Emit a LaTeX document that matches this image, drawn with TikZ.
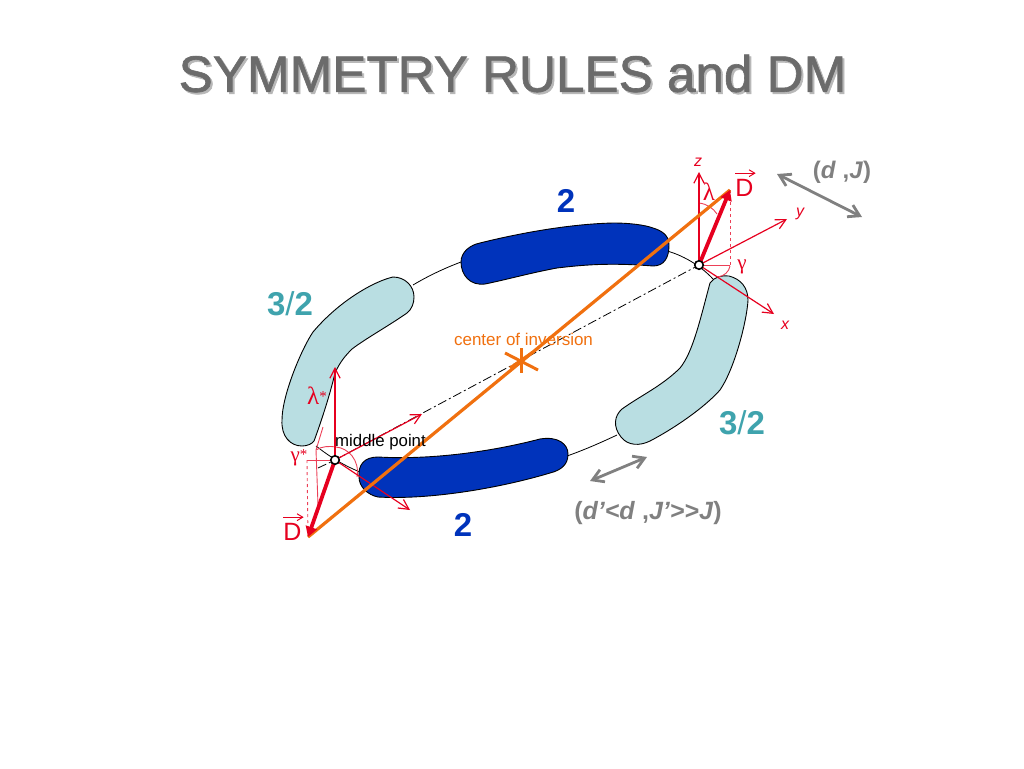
\documentclass[tikz,border=0pt]{standalone}
\usepackage{amsmath}
\usepackage{fontspec}
\setmainfont{Liberation Sans}
\newfontfamily\greekfont{Liberation Serif}
\newfontfamily\titlefont[FakeBold=1.2]{Liberation Sans}
\usetikzlibrary{arrows.meta,positioning,calc}
\definecolor{redaxis}{HTML}{E6001F}
\definecolor{orangeline}{HTML}{F0700F}
\definecolor{bluebar}{HTML}{0033BB}
\definecolor{lightbar}{HTML}{B9DEE2}
\definecolor{tealtxt}{HTML}{3FA3AD}
\definecolor{greytxt}{HTML}{808080}
\tikzset{
  axis/.style={redaxis, line width=1.2pt, -{Straight Barb[length=3.5mm,width=3.6mm]}},
  guide/.style={redaxis!75, line width=0.9pt},
  spin/.style={redaxis, line width=3.8pt, -{Triangle[length=3.6mm,width=4mm]}},
  dvec/.style={redaxis, line width=1pt, -{Straight Barb[length=2mm,width=2.4mm]}},
  ring/.style={black, line width=0.8pt},
  jarr/.style={greytxt, line width=2.8pt, {Straight Barb[length=3.8mm,width=4.6mm]}-{Straight Barb[length=3.8mm,width=4.6mm]}},
  site/.style={circle, draw, line width=1.6pt, fill=white, inner sep=0pt, minimum size=8.5pt},
  lbl/.style={redaxis, inner sep=0pt},
  bignum/.style={font=\fontsize{33}{33}\selectfont\bfseries, inner sep=0pt},
  jtxt/.style={greytxt, font=\fontsize{24}{24}\selectfont\bfseries, inner sep=0pt},
}
\newcommand{\upstar}[1]{\raisebox{#1}{\fontsize{15}{15}\selectfont*}}

\begin{document}
\begin{tikzpicture}[x=1pt,y=-1pt]
  \useasboundingbox (0,0) rectangle (1024,768);
  \node[text=black!28, font=\fontsize{51.2}{51}\titlefont] at (514.5,75.5) (titleback) {SYMMETRY RULES and DM};
  \node[text=black!58, font=\fontsize{51.2}{51}\titlefont] at (512.5,73.5) (title) {SYMMETRY RULES and DM};

  \coordinate (pt) at (699,265);
  \coordinate (mid) at (335,460);
  \coordinate (tipd) at (730,190);
  \coordinate (tipm) at (308,537);
  \coordinate (cen) at (521,361);

  % ring pieces between the bars
  \draw[ring] (413,285) .. controls (428,276) and (445,268) .. (461,262);
  \draw[ring] (667,251) .. controls (682,255) and (700,265) .. (713,279);
  \draw[ring] (316,446) .. controls (325,453) and (340,464) .. (360,472);
  \draw[ring] (567,456) .. controls (584,450) and (600,443) .. (617,435);
  \draw[black, line width=0.8pt, dash pattern=on 9pt off 3pt on 2pt off 3pt] (318,468) -- (mid) -- (pt);

  % bars
  \draw[fill=lightbar, line width=0.9pt] (414,297) .. controls (414,286) and (405,277) .. (393,277)
    .. controls (375,281) and (340,300) .. (313,332) .. controls (302,348) and (282,395) .. (282,420)
    .. controls (281,436) and (290,446) .. (302,446) .. controls (307,446) and (312,444) .. (314,441)
    .. controls (320,425) and (330,395) .. (335,373) .. controls (340,362) and (345,356) .. (352,349)
    .. controls (365,339) and (390,325) .. (407,313) .. controls (412,309) and (414,303) .. (414,297) -- cycle;
  \draw[fill=lightbar, line width=0.9pt] (710,283) .. controls (714,277) and (722,275) .. (729,276)
    .. controls (741,279) and (748,288) .. (748,300) .. controls (747,320) and (735,368) .. (720,390)
    .. controls (705,407) and (675,428) .. (650,441) .. controls (640,446) and (628,446) .. (621,437)
    .. controls (613,427) and (614,416) .. (622,409) .. controls (640,396) and (662,386) .. (680,368)
    .. controls (693,352) and (700,320) .. (710,283) -- cycle;
  \draw[fill=bluebar, line width=0.9pt] (461,262) .. controls (461,252) and (470,245) .. (480,243)
    .. controls (520,233) and (570,224) .. (613,223) .. controls (630,223) and (645,225) .. (653,228)
    .. controls (663,231) and (669,236) .. (669,245) .. controls (669,258) and (664,266) .. (653,266)
    .. controls (615,263) and (590,264) .. (557,268) .. controls (530,273) and (505,280) .. (485,284)
    .. controls (470,286) and (461,275) .. (461,262) -- cycle;
  \draw[fill=bluebar, line width=0.9pt] (359,477) .. controls (358,465) and (364,457) .. (378,457)
    .. controls (430,460) and (490,452) .. (540,439) .. controls (558,436) and (568,444) .. (568,454)
    .. controls (568,464) and (562,470) .. (550,473) .. controls (500,488) and (430,500) .. (378,497)
    .. controls (368,495) and (359,487) .. (359,477) -- cycle;

  % frame at the upper site
  \draw[guide] (pt) -- (730,265) coordinate (foot);
  \draw[guide, dashed] (foot) -- (tipd);
  \draw[guide] (699,203) .. controls (707,204) and (713,208) .. (717,214);
  \draw[guide] (730,266) .. controls (729,272) and (724,276) .. (718,277);
  \draw[axis] (pt) -- (699,172);
  \draw[axis] (pt) -- (787,219);
  \draw[axis] (pt) -- (774,314);

  % frame at the middle point
  \draw[guide] (mid) -- (307,460) coordinate (footm);
  \draw[guide, dashed] (footm) -- (tipm);
  \draw[guide] (323,427) -- (316,450) -- (318,505);
  \draw[guide] (316,450) .. controls (322,446) and (330,446) .. (336,447) .. controls (348,448) and (360,460) .. (357,477);
  \draw[axis] (mid) -- (335,367);
  \draw[axis] (mid) -- (422,414);
  \draw[axis] (mid) -- (410,510);

  % line through the centre
  \draw[orangeline, line width=3.2pt] (tipm) -- (tipd);
  \draw[orangeline, line width=3pt] (cen) ++(0.5,-13) -- ++(0,25);
  \draw[orangeline, line width=3pt] (505,353) -- (538,370);
  \draw[orangeline, line width=3pt] (510,368) -- (533,352);

  \draw[spin] (pt) -- (tipd);
  \draw[spin] (mid) -- (tipm);
  \node[site] (sitep) at (pt) {};
  \node[site] (sitem) at (mid) {};

  \draw[jarr] (777,174) -- (862,217);
  \draw[jarr] (590,481) -- (647,457);

  \node[bignum, text=bluebar] (ntop) at (566,201) {2};
  \node[bignum, text=bluebar] (nbot) at (463,525) {2};
  \node[bignum, text=tealtxt] (nleft) at (290,304) {3\textmd{/}2};
  \node[bignum, text=tealtxt] (nright) at (742,423) {3\textmd{/}2};
  \node[jtxt] (jtop) at (842,172) {(\textit{d} ,\textit{J})};
  \node[jtxt, font=\fontsize{25}{25}\selectfont\bfseries] (jbot) at (648,513) {(\textit{d’<d} ,\textit{J’{>}{>}J})};
  \node[inner sep=0pt, text=orangeline, font=\fontsize{17}{17}\selectfont] (cenlbl) at (523.5,339) {center of inversion};
  \node[inner sep=0pt, anchor=west, font=\fontsize{16.8}{17}\selectfont] (midlbl) at (335,442) {middle point};

  \node[lbl, font=\fontsize{16}{16}\selectfont\itshape] (zl) at (698,162) {z};
  \node[lbl, font=\fontsize{16}{16}\selectfont\itshape] (yl) at (800,214) {y};
  \node[lbl, font=\fontsize{16}{16}\selectfont\itshape] (xl) at (785,325) {x};
  \node[lbl, font=\fontsize{25}{25}\selectfont\greekfont] (laml) at (709,192) {λ};
  \node[lbl, font=\fontsize{21}{21}\selectfont\greekfont] (gaml) at (742,267) {γ};
  \node[lbl, font=\fontsize{25}{25}\selectfont\greekfont] (lamm) at (317,396) {λ\upstar{3pt}};
  \node[lbl, font=\fontsize{21}{21}\selectfont\greekfont] (gamm) at (299,458) {γ\upstar{2pt}};
  \node[lbl, font=\fontsize{25}{25}\selectfont] (dtop) at (744.5,188) {D};
  \node[lbl, font=\fontsize{25}{25}\selectfont] (dbot) at (292.5,532) {D};
  \draw[dvec] ($(dtop.north west)+(0,-6)$) -- ($(dtop.north east)+(2,-6)$);
  \draw[dvec] ($(dbot.north west)+(0,-6)$) -- ($(dbot.north east)+(2,-6)$);
\end{tikzpicture}
\end{document}
